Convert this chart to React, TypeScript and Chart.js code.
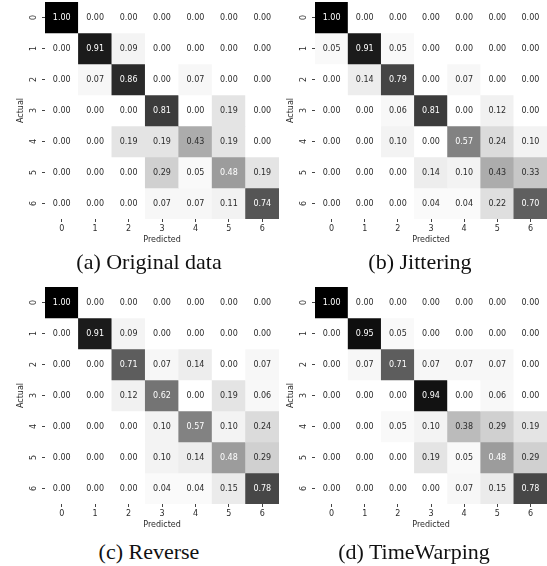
import React, { useEffect, useRef } from 'react';
import { Chart, registerables } from 'chart.js';

Chart.register(...registerables);

const CLASSES = ['0', '1', '2', '3', '4', '5', '6'];

const ORIGINAL = [
  [1.0, 0.0, 0.0, 0.0, 0.0, 0.0, 0.0],
  [0.0, 0.91, 0.09, 0.0, 0.0, 0.0, 0.0],
  [0.0, 0.07, 0.86, 0.0, 0.07, 0.0, 0.0],
  [0.0, 0.0, 0.0, 0.81, 0.0, 0.19, 0.0],
  [0.0, 0.0, 0.19, 0.19, 0.43, 0.19, 0.0],
  [0.0, 0.0, 0.0, 0.29, 0.05, 0.48, 0.19],
  [0.0, 0.0, 0.0, 0.07, 0.07, 0.11, 0.74],
];

const JITTERING = [
  [1.0, 0.0, 0.0, 0.0, 0.0, 0.0, 0.0],
  [0.05, 0.91, 0.05, 0.0, 0.0, 0.0, 0.0],
  [0.0, 0.14, 0.79, 0.0, 0.07, 0.0, 0.0],
  [0.0, 0.0, 0.06, 0.81, 0.0, 0.12, 0.0],
  [0.0, 0.0, 0.1, 0.0, 0.57, 0.24, 0.1],
  [0.0, 0.0, 0.0, 0.14, 0.1, 0.43, 0.33],
  [0.0, 0.0, 0.0, 0.04, 0.04, 0.22, 0.7],
];

const REVERSE = [
  [1.0, 0.0, 0.0, 0.0, 0.0, 0.0, 0.0],
  [0.0, 0.91, 0.09, 0.0, 0.0, 0.0, 0.0],
  [0.0, 0.0, 0.71, 0.07, 0.14, 0.0, 0.07],
  [0.0, 0.0, 0.12, 0.62, 0.0, 0.19, 0.06],
  [0.0, 0.0, 0.0, 0.1, 0.57, 0.1, 0.24],
  [0.0, 0.0, 0.0, 0.1, 0.14, 0.48, 0.29],
  [0.0, 0.0, 0.0, 0.04, 0.04, 0.15, 0.78],
];

const TIMEWARPING = [
  [1.0, 0.0, 0.0, 0.0, 0.0, 0.0, 0.0],
  [0.0, 0.95, 0.05, 0.0, 0.0, 0.0, 0.0],
  [0.0, 0.07, 0.71, 0.07, 0.07, 0.07, 0.0],
  [0.0, 0.0, 0.0, 0.94, 0.0, 0.06, 0.0],
  [0.0, 0.0, 0.05, 0.1, 0.38, 0.29, 0.19],
  [0.0, 0.0, 0.0, 0.19, 0.05, 0.48, 0.29],
  [0.0, 0.0, 0.0, 0.0, 0.07, 0.15, 0.78],
];

const CAPTIONS = ['(a) Original data', '(b) Jittering', '(c) Reverse', '(d) TimeWarping'];
const X_TITLE = 'Predicted';
const Y_TITLE = 'Actual';

// matplotlib "Greys" colormap anchors
const GREYS = [1.0, 0.9412, 0.851, 0.7412, 0.5882, 0.451, 0.3216, 0.1451, 0.0];
const FONT = "'DejaVu Sans', sans-serif";
const DARK_TEXT = '#2b2b2b';

function greyLevel(v: number) {
  const t = Math.max(0, Math.min(1, v)) * 8;
  const i = Math.min(7, Math.floor(t));
  const f = t - i;
  return GREYS[i] + (GREYS[i + 1] - GREYS[i]) * f;
}
function greyColor(v: number) {
  const c = Math.round(greyLevel(v) * 255);
  return `rgb(${c},${c},${c})`;
}
function textColor(v: number) {
  const g = greyLevel(v);
  const lin = g <= 0.03928 ? g / 12.92 : Math.pow((g + 0.055) / 1.055, 2.4);
  return lin > 0.408 ? DARK_TEXT : '#ffffff';
}

type PanelProps = { matrix: number[][]; left: number; top: number; width: number; height: number; padRight: number };

function Panel({ matrix, left, top, width, height, padRight }: PanelProps) {
  const ref = useRef<HTMLCanvasElement>(null);
  useEffect(() => {
    const canvas = ref.current!;
    const cellPlugin = {
      id: 'cellText',
      afterDatasetsDraw(chart: any) {
        const ctx = chart.ctx;
        ctx.save();
        ctx.font = `8px ${FONT}`;
        ctx.textAlign = 'center';
        ctx.textBaseline = 'middle';
        chart.data.datasets.forEach((_ds: any, r: number) => {
          const meta = chart.getDatasetMeta(r);
          meta.data.forEach((bar: any, c: number) => {
            const v = matrix[r][c];
            const { x, y, base } = bar.getProps(['x', 'y', 'base'], true);
            ctx.fillStyle = textColor(v);
            ctx.fillText(v.toFixed(2), x, (y + base) / 2 + 0.5);
          });
        });
        ctx.restore();
      },
      afterDraw(chart: any) {
        const ctx = chart.ctx;
        const ys = chart.scales.y;
        const area = chart.chartArea;
        ctx.save();
        ctx.font = `8px ${FONT}`;
        ctx.fillStyle = DARK_TEXT;
        ctx.textAlign = 'center';
        ctx.textBaseline = 'middle';
        CLASSES.forEach((lab, i) => {
          const py = ys.getPixelForValue(i + 0.5);
          ctx.save();
          ctx.translate(area.left - 11, py);
          ctx.rotate(-Math.PI / 2);
          ctx.fillText(lab, 0, 0);
          ctx.restore();
        });
        ctx.restore();
      },
    };
    const chart = new Chart(canvas, {
      type: 'bar',
      data: {
        labels: CLASSES,
        datasets: matrix.map((row, r) => ({
          data: row.map(() => [r, r + 1]),
          backgroundColor: row.map((v) => greyColor(v)),
          borderWidth: 0,
          barPercentage: 1,
          categoryPercentage: 1,
        })),
      } as any,
      plugins: [cellPlugin],
      options: {
        responsive: false,
        maintainAspectRatio: false,
        animation: false,
        layout: { padding: { left: 0, right: padRight, top: 2, bottom: 0 } },
        plugins: { legend: { display: false }, tooltip: { enabled: false } },
        scales: {
          x: {
            type: 'category',
            stacked: true,
            offset: true,
            afterFit: (s: any) => {
              s.height = 31;
            },
            border: { display: false },
            grid: { display: true, drawOnChartArea: false, offset: false, tickLength: 3, color: '#444', lineWidth: 1 },
            ticks: { color: DARK_TEXT, font: { size: 8, family: FONT }, padding: 2, maxRotation: 0, minRotation: 0 },
            title: { display: true, text: X_TITLE, color: DARK_TEXT, font: { size: 8, family: FONT }, padding: { top: 0, bottom: 5 } },
          },
          y: {
            type: 'linear',
            min: 0,
            max: 7,
            reverse: true,
            stacked: false,
            afterBuildTicks: (s: any) => {
              s.ticks = CLASSES.map((_c, i) => ({ value: i + 0.5 }));
            },
            afterFit: (s: any) => {
              s.width = 45;
            },
            border: { display: false },
            grid: { display: true, drawOnChartArea: false, tickLength: 3, color: '#444', lineWidth: 1 },
            ticks: { display: false },
            title: { display: true, text: Y_TITLE, color: DARK_TEXT, font: { size: 8, family: FONT }, padding: { top: 16, bottom: 0 } },
          },
        },
      } as any,
    });
    return () => chart.destroy();
  }, [matrix]);
  return (
    <canvas
      ref={ref}
      width={width}
      height={height}
      style={{ position: 'absolute', left, top, width, height }}
    />
  );
}

function Caption({ text, cx, cy }: { text: string; cx: number; cy: number }) {
  return (
    <div
      style={{
        position: 'absolute',
        left: cx,
        top: cy - 13,
        transform: 'translateX(-50%)',
        whiteSpace: 'nowrap',
        fontFamily: "'Liberation Serif', 'Times New Roman', serif",
        fontSize: 22,
        lineHeight: '26px',
        color: '#111',
      }}
    >
      {text}
    </div>
  );
}

export default function App() {
  return (
    <div
      style={{
        position: 'fixed',
        left: 0,
        top: 0,
        width: 547,
        height: 566,
        background: '#fff',
        overflow: 'hidden',
      }}
    >
      <Panel matrix={ORIGINAL} left={0} top={0} width={280} height={250} padRight={1} />
      <Panel matrix={JITTERING} left={270} top={0} width={277} height={250} padRight={0} />
      <Panel matrix={REVERSE} left={0} top={285} width={280} height={250} padRight={1} />
      <Panel matrix={TIMEWARPING} left={270} top={285} width={277} height={250} padRight={0} />
      <Caption text={CAPTIONS[0]} cx={149} cy={262} />
      <Caption text={CAPTIONS[1]} cx={420} cy={262} />
      <Caption text={CAPTIONS[2]} cx={149} cy={552} />
      <Caption text={CAPTIONS[3]} cx={414} cy={552} />
    </div>
  );
}
